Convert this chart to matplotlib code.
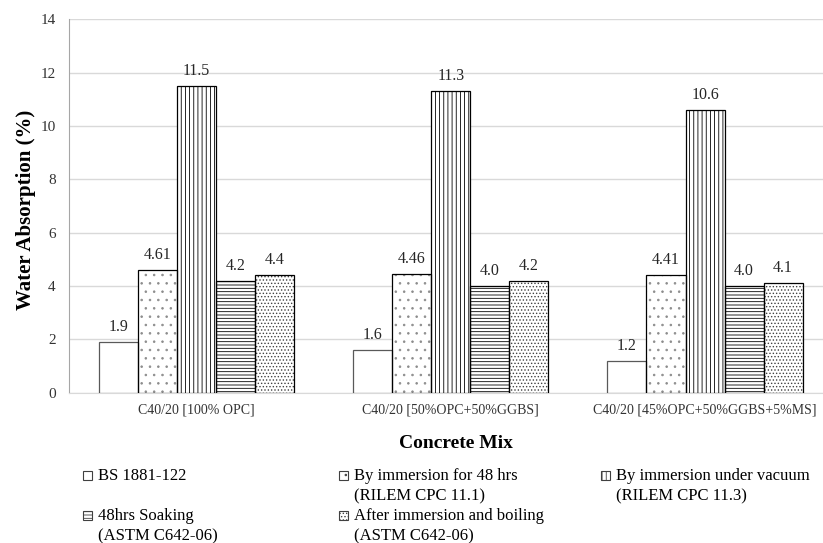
import numpy as np
import matplotlib
matplotlib.use('Agg')
import matplotlib.pyplot as plt
from matplotlib.patches import Rectangle

plt.rcParams['font.family'] = ['Liberation Serif', 'DejaVu Serif']
plt.rcParams['hatch.linewidth'] = 0.6

# water absorption (%) per concrete mix and test method
mixes = ['C40/20 [100% OPC]', 'C40/20 [50%OPC+50%GGBS]', 'C40/20 [45%OPC+50%GGBS+5%MS]']
bs_1881 = [1.9, 1.6, 1.2]
immersion_48h = [4.61, 4.46, 4.41]
vacuum = [11.5, 11.3, 10.6]
soaking_48h = [4.2, 4.0, 4.0]
boiling = [4.4, 4.2, 4.1]

# values, label, hatch, hatch colour, edge colour, number format
series = [
    (bs_1881, 'BS 1881-122', '', 'white', '#595959', '%.1f'),
    (immersion_48h, 'By immersion for 48 hrs\n(RILEM CPC 11.1)', '..', '#8c8c8c', 'black', '%.2f'),
    (vacuum, 'By immersion under vacuum\n(RILEM CPC 11.3)', '||||', 'black', 'black', '%.1f'),
    (soaking_48h, '48hrs Soaking\n(ASTM C642-06)', '-----', 'black', 'black', '%.1f'),
    (boiling, 'After immersion and boiling\n(ASTM C642-06)', '.....', '#404040', 'black', '%.1f'),
]

W, H = 823, 543
fig = plt.figure(figsize=(W / 100, H / 100), dpi=100)
ax = fig.add_axes([69.4 / W, (H - 392.7) / H, 762.75 / W, 373.4 / H])

x = np.arange(len(mixes))
bw = 0.1535
for i, (vals, lab, hatch, hc, ec, fmt) in enumerate(series):
    pos = x + (i - 2) * bw
    # hatch fill first, then the outline on top
    ax.bar(pos, vals, bw, color='white', edgecolor=hc, hatch=hatch,
           linewidth=0, zorder=3)
    bars = ax.bar(pos, vals, bw, fill=False, edgecolor=ec, linewidth=0.9, zorder=4)
    ax.bar_label(bars, fmt=fmt, padding=5, fontsize=11.5, color='#262626')

ax.set_xlim(-0.5, 2.5)
ax.set_ylim(0, 14)
ax.set_yticks(np.arange(0, 15, 2))
ax.set_xticks(x)
ax.set_xticklabels(mixes, fontsize=10, color='#333333')
ax.tick_params(axis='y', length=0, pad=10, labelsize=11, labelcolor='#333333')
ax.tick_params(axis='x', length=0, pad=8)
ax.grid(axis='y', color='#d9d9d9', linewidth=1, zorder=0)
for s in ['top', 'right']:
    ax.spines[s].set_visible(False)
ax.spines['left'].set_color('#a6a6a6')
ax.spines['bottom'].set_color('#d9d9d9')

fig.text(456 / W, 1 - 443 / H, 'Concrete Mix', ha='center', va='center',
         fontsize=14, fontweight='bold')
fig.text(26 / W, 1 - 210 / H, 'Water Absorption (%)', ha='center', va='center',
         rotation=90, fontsize=15, fontweight='bold')

# legend laid out by hand: three columns, two rows (pixel positions)
slots = [(87, 475), (343, 475), (605, 475), (87, 515), (343, 515)]
for (vals, lab, hatch, hc, ec, fmt), (cx, cy) in zip(series, slots):
    sq = 9
    fig.patches.append(Rectangle(((cx - sq / 2) / W, 1 - (cy + sq / 2) / H), sq / W, sq / H,
                                 transform=fig.transFigure, facecolor='white',
                                 edgecolor='#404040', hatch=hatch, linewidth=0.8))
    for k, line in enumerate(lab.split('\n')):
        fig.text((cx + 11) / W, 1 - (cy + 5 + 20 * k) / H, line, ha='left',
                 va='baseline', fontsize=12, color='black')

fig.savefig('out.png', dpi=100)
